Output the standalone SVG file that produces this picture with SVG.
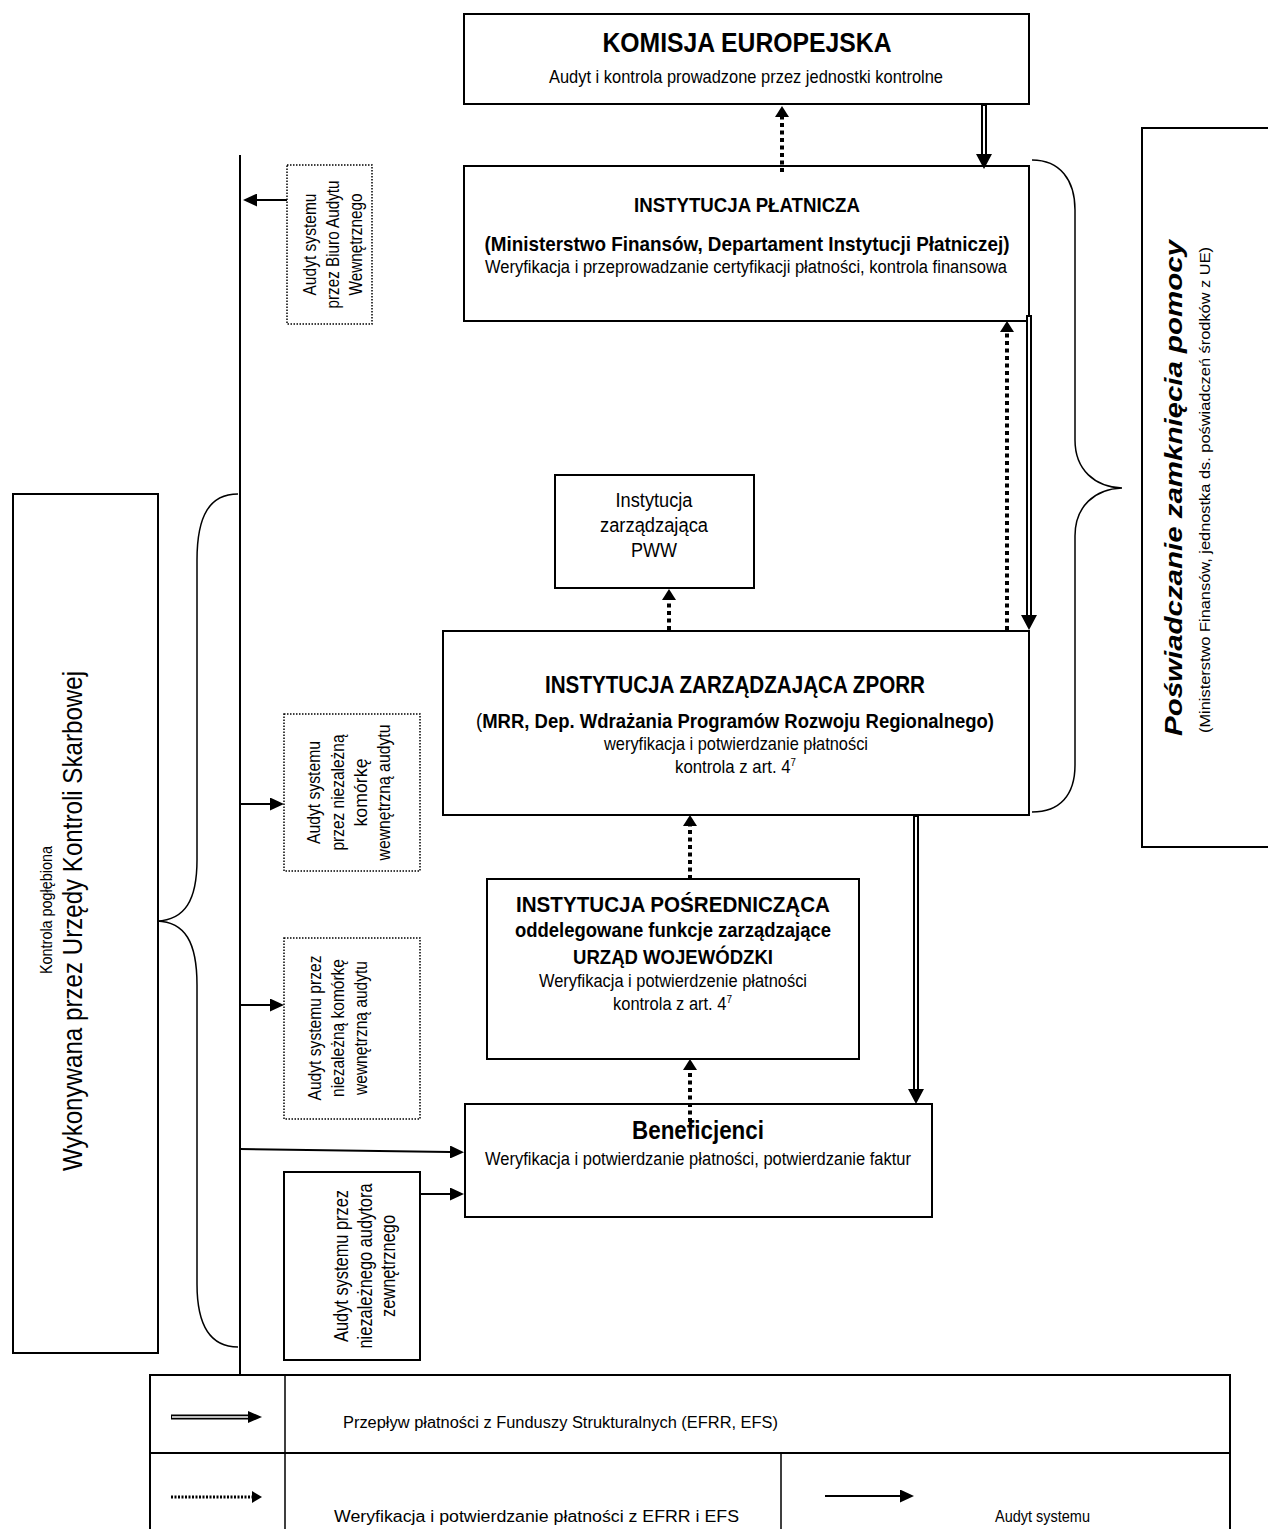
<svg xmlns="http://www.w3.org/2000/svg" width="1268" height="1529" viewBox="0 0 1268 1529">
<style>
text{font-family:"Liberation Sans",Arial,sans-serif;fill:#000}
.b{font-weight:bold}
.box{fill:#fff;stroke:#000;stroke-width:2}
.dbox{fill:#fff;stroke:#000;stroke-width:1.5;stroke-dasharray:1.5 1.5}
.ln{fill:none;stroke:#000;stroke-width:2}
.br{fill:none;stroke:#000;stroke-width:1.5}
.dot{fill:none;stroke:#000;stroke-width:4;stroke-dasharray:4 3.5}
.dblo{fill:none;stroke:#000;stroke-width:6}
.dbli{fill:none;stroke:#fff;stroke-width:2}
</style>
<defs>
<marker id="ad" markerUnits="userSpaceOnUse" markerWidth="11" markerHeight="14" refX="0" refY="7" orient="auto" viewBox="0 0 11 14"><path d="M0,0 L11,7 L0,14 z" fill="#000"/></marker>
<marker id="as" markerUnits="userSpaceOnUse" markerWidth="14" markerHeight="13" refX="0" refY="6.5" orient="auto" viewBox="0 0 14 13"><path d="M0,0 L14,6.5 L0,13 z" fill="#000"/></marker>
<marker id="a2" markerUnits="userSpaceOnUse" markerWidth="15" markerHeight="16" refX="0" refY="8" orient="auto" viewBox="0 0 15 16"><path d="M0,0 L15,8 L0,16 z" fill="#000"/></marker>
<marker id="a2s" markerUnits="userSpaceOnUse" markerWidth="14" markerHeight="12" refX="0" refY="6" orient="auto" viewBox="0 0 14 12"><path d="M0,0 L14,6 L0,12 z" fill="#000"/></marker>
<marker id="ads" markerUnits="userSpaceOnUse" markerWidth="10" markerHeight="12" refX="0" refY="6" orient="auto" viewBox="0 0 10 12"><path d="M0,0 L10,6 L0,12 z" fill="#000"/></marker>
</defs>
<rect width="1268" height="1529" fill="#fff"/>

<g id="komisja">
<rect class="box" x="464" y="14" width="565" height="90"/>
<text class="b" x="747" y="52" font-size="27" text-anchor="middle" textLength="289" lengthAdjust="spacingAndGlyphs">KOMISJA EUROPEJSKA</text>
<text x="746" y="83" font-size="19" text-anchor="middle" textLength="394" lengthAdjust="spacingAndGlyphs">Audyt i kontrola prowadzone przez jednostki kontrolne</text>
</g>

<g id="instytucja-platnicza">
<rect class="box" x="464" y="166" width="565" height="155"/>
<text class="b" x="747" y="212" font-size="21" text-anchor="middle" textLength="226" lengthAdjust="spacingAndGlyphs">INSTYTUCJA PŁATNICZA</text>
<text class="b" x="747" y="251" font-size="21" text-anchor="middle" textLength="525" lengthAdjust="spacingAndGlyphs">(Ministerstwo Finansów, Departament Instytucji Płatniczej)</text>
<text x="746" y="273" font-size="18" text-anchor="middle" textLength="522" lengthAdjust="spacingAndGlyphs">Weryfikacja i przeprowadzanie certyfikacji płatności, kontrola finansowa</text>
</g>

<g id="pww">
<rect class="box" x="555" y="475" width="199" height="113"/>
<text x="654" y="507" font-size="20" text-anchor="middle" textLength="77" lengthAdjust="spacingAndGlyphs">Instytucja</text>
<text x="654" y="532" font-size="20" text-anchor="middle" textLength="108" lengthAdjust="spacingAndGlyphs">zarządzająca</text>
<text x="654" y="557" font-size="20" text-anchor="middle" textLength="46" lengthAdjust="spacingAndGlyphs">PWW</text>
</g>

<g id="zporr">
<rect class="box" x="443" y="631" width="586" height="184"/>
<text class="b" x="735" y="693" font-size="23" text-anchor="middle" textLength="380" lengthAdjust="spacingAndGlyphs">INSTYTUCJA ZARZĄDZAJĄCA ZPORR</text>
<text class="b" x="735" y="728" font-size="20" text-anchor="middle" textLength="518" lengthAdjust="spacingAndGlyphs"><tspan font-weight="normal">(</tspan>MRR, Dep. Wdrażania Programów Rozwoju Regionalnego)</text>
<text x="736" y="750" font-size="19" text-anchor="middle" textLength="264" lengthAdjust="spacingAndGlyphs">weryfikacja i potwierdzanie płatności</text>
<text x="675" y="773" font-size="19" textLength="121" lengthAdjust="spacingAndGlyphs">kontrola z art. 4<tspan font-size="11" dy="-7">7</tspan></text>
</g>

<g id="posredniczaca">
<rect class="box" x="487" y="879" width="372" height="180"/>
<text class="b" x="673" y="912" font-size="22" text-anchor="middle" textLength="314" lengthAdjust="spacingAndGlyphs">INSTYTUCJA POŚREDNICZĄCA</text>
<text class="b" x="673" y="937" font-size="20" text-anchor="middle" textLength="316" lengthAdjust="spacingAndGlyphs">oddelegowane funkcje zarządzające</text>
<text class="b" x="673" y="964" font-size="21" text-anchor="middle" textLength="200" lengthAdjust="spacingAndGlyphs">URZĄD WOJEWÓDZKI</text>
<text x="673" y="987" font-size="18" text-anchor="middle" textLength="268" lengthAdjust="spacingAndGlyphs">Weryfikacja i potwierdzenie płatności</text>
<text x="613" y="1010" font-size="18" textLength="119" lengthAdjust="spacingAndGlyphs">kontrola z art. 4<tspan font-size="11" dy="-7">7</tspan></text>
</g>

<g id="beneficjenci">
<rect class="box" x="465" y="1104" width="467" height="113"/>
<text class="b" x="698" y="1139" font-size="25" text-anchor="middle" textLength="132" lengthAdjust="spacingAndGlyphs">Beneficjenci</text>
<text x="698" y="1165" font-size="18" text-anchor="middle" textLength="426" lengthAdjust="spacingAndGlyphs">Weryfikacja i potwierdzanie płatności, potwierdzanie faktur</text>
</g>

<g id="audyt-biuro">
<rect class="dbox" x="287" y="165" width="85" height="159"/>
<text transform="translate(316,244.5) rotate(-90)" font-size="19" text-anchor="middle" textLength="102" lengthAdjust="spacingAndGlyphs">Audyt systemu</text>
<text transform="translate(339,244.5) rotate(-90)" font-size="19" text-anchor="middle" textLength="128" lengthAdjust="spacingAndGlyphs">przez Biuro Audytu</text>
<text transform="translate(362,244.5) rotate(-90)" font-size="19" text-anchor="middle" textLength="102" lengthAdjust="spacingAndGlyphs">Wewnętrznego</text>
</g>

<g id="audyt-zporr">
<rect class="dbox" x="284" y="714" width="136" height="157"/>
<text transform="translate(320,792.5) rotate(-90)" font-size="19" text-anchor="middle" textLength="103" lengthAdjust="spacingAndGlyphs">Audyt systemu</text>
<text transform="translate(344,792.5) rotate(-90)" font-size="19" text-anchor="middle" textLength="116" lengthAdjust="spacingAndGlyphs">przez niezależną</text>
<text transform="translate(367,792.5) rotate(-90)" font-size="19" text-anchor="middle" textLength="68" lengthAdjust="spacingAndGlyphs">komórkę</text>
<text transform="translate(390,792.5) rotate(-90)" font-size="19" text-anchor="middle" textLength="136" lengthAdjust="spacingAndGlyphs">wewnętrzną audytu</text>
</g>

<g id="audyt-ip">
<rect class="dbox" x="284" y="938" width="136" height="181"/>
<text transform="translate(321,1028) rotate(-90)" font-size="19" text-anchor="middle" textLength="145" lengthAdjust="spacingAndGlyphs">Audyt systemu przez</text>
<text transform="translate(344,1028) rotate(-90)" font-size="19" text-anchor="middle" textLength="138" lengthAdjust="spacingAndGlyphs">niezależną komórkę</text>
<text transform="translate(367,1028) rotate(-90)" font-size="19" text-anchor="middle" textLength="134" lengthAdjust="spacingAndGlyphs">wewnętrzną audytu</text>
</g>

<g id="audyt-zewnetrzny">
<rect class="box" x="284" y="1172" width="136" height="188"/>
<text transform="translate(348,1266) rotate(-90)" font-size="20" text-anchor="middle" textLength="152" lengthAdjust="spacingAndGlyphs">Audyt systemu przez</text>
<text transform="translate(372,1266) rotate(-90)" font-size="20" text-anchor="middle" textLength="165" lengthAdjust="spacingAndGlyphs">niezależnego audytora</text>
<text transform="translate(395,1266) rotate(-90)" font-size="20" text-anchor="middle" textLength="102" lengthAdjust="spacingAndGlyphs">zewnętrznego</text>
</g>

<g id="kontrola-skarbowa">
<rect class="box" x="13" y="494" width="145" height="859"/>
<text transform="translate(52,910) rotate(-90)" font-size="17" text-anchor="middle" textLength="128" lengthAdjust="spacingAndGlyphs">Kontrola pogłębiona</text>
<text transform="translate(82,921) rotate(-90)" font-size="28" text-anchor="middle" textLength="500" lengthAdjust="spacingAndGlyphs">Wykonywana przez Urzędy Kontroli Skarbowej</text>
<path class="br" d="M238,494 C210,494 197,515 197,560 L197,860 C197,900 185,920 157,921 C185,922 197,942 197,985 L197,1284 C197,1325 210,1347 238,1347"/>
</g>

<g id="poswiadczanie">
<rect class="box" x="1142" y="128" width="130" height="719"/>
<text class="b" transform="translate(1182,488) rotate(-90)" font-size="24" font-style="italic" text-anchor="middle" textLength="496" lengthAdjust="spacingAndGlyphs">Poświadczanie zamknięcia pomocy</text>
<text transform="translate(1210,490) rotate(-90)" font-size="15" text-anchor="middle" textLength="486" lengthAdjust="spacingAndGlyphs">(Ministerstwo Finansów, jednostka ds. poświadczeń środków z UE)</text>
<path class="br" d="M1032,160 C1060,160 1075,180 1075,210 L1075,440 C1075,470 1095,487 1122,488 C1095,489 1075,506 1075,536 L1075,765 C1075,795 1060,812 1032,812"/>
</g>

<g id="connectors">
<path class="ln" d="M240,155 L240,1375"/>
<path class="dot" d="M782,172 L782,117" marker-end="url(#ad)"/>
<path class="dot" d="M1007,630 L1007,332" marker-end="url(#ad)"/>
<path class="dot" d="M669,630 L669,600" marker-end="url(#ad)"/>
<path class="dot" d="M690,879 L690,826" marker-end="url(#ad)"/>
<path class="dot" d="M690,1122 L690,1070" marker-end="url(#ad)"/>
<path class="dblo" d="M984,104 L984,154" marker-end="url(#a2)"/>
<path class="dbli" d="M984,106 L984,154"/>
<path class="dblo" d="M1029,315 L1029,615" marker-end="url(#a2)"/>
<path class="dbli" d="M1029,317 L1029,615"/>
<path class="dblo" d="M916,815 L916,1089" marker-end="url(#a2)"/>
<path class="dbli" d="M916,817 L916,1089"/>
<path class="ln" d="M287,200 L257,200" marker-end="url(#as)"/>
<path class="ln" d="M240,804 L270,804" marker-end="url(#as)"/>
<path class="ln" d="M240,1005 L270,1005" marker-end="url(#as)"/>
<path class="ln" d="M240,1149 L450,1152" marker-end="url(#as)"/>
<path class="ln" d="M420,1194 L450,1194" marker-end="url(#as)"/>
</g>

<g id="legend">
<rect class="box" x="150" y="1375" width="1080" height="170"/>
<path class="ln" d="M150,1453 L1230,1453"/>
<path fill="none" stroke="#000" stroke-width="1.5" d="M285,1375 L285,1529 M781,1453 L781,1529"/>
<path fill="none" stroke="#000" stroke-width="5" d="M171,1417 L248,1417" marker-end="url(#a2s)"/>
<path fill="none" stroke="#fff" stroke-width="1.5" d="M172,1417 L248,1417"/>
<path fill="none" stroke="#000" stroke-width="3" stroke-dasharray="2 1.5" d="M171,1497 L252,1497" marker-end="url(#ads)"/>
<path class="ln" d="M825,1496 L900,1496" marker-end="url(#as)"/>
<text x="343" y="1428" font-size="16" textLength="435" lengthAdjust="spacingAndGlyphs">Przepływ płatności z Funduszy Strukturalnych (EFRR, EFS)</text>
<text x="334" y="1522" font-size="16" textLength="405" lengthAdjust="spacingAndGlyphs">Weryfikacja i potwierdzanie płatności z EFRR i EFS</text>
<text x="995" y="1522" font-size="16" textLength="95" lengthAdjust="spacingAndGlyphs">Audyt systemu</text>
</g>
</svg>
